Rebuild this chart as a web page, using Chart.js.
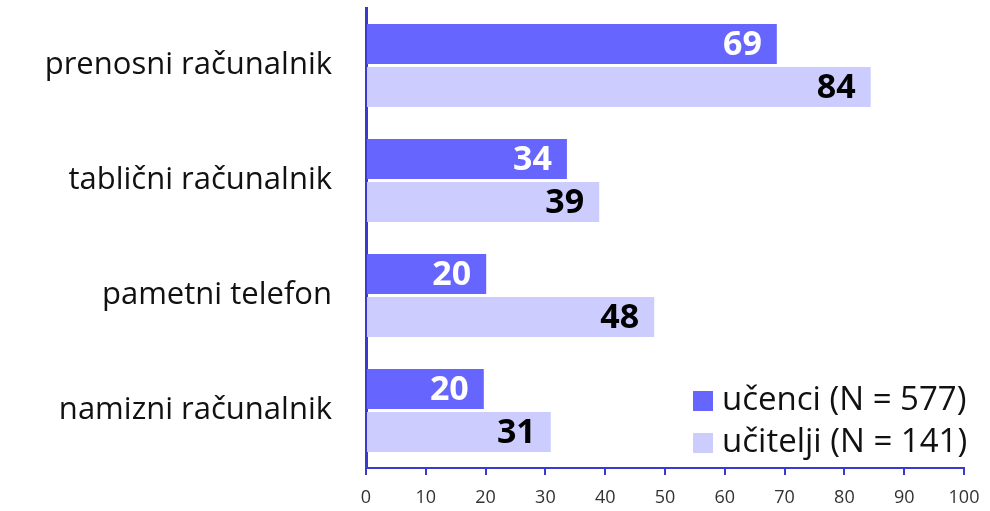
<!DOCTYPE html>
<html>
<head>
<meta charset="utf-8">
<script src="https://cdn.jsdelivr.net/npm/chart.js@4"></script>
<style>
  html, body { margin: 0; padding: 0; background: #fff; }
  #wrap { width: 990px; height: 511px; }
</style>
</head>
<body>
<div id="wrap"><canvas id="chart" width="990" height="511"></canvas></div>
<script>
const categories = ['prenosni računalnik', 'tablični računalnik', 'pametni telefon', 'namizni računalnik'];
const seriesNames = ['učenci (N = 577)', 'učitelji (N = 141)'];
// percentages; labels show them rounded
const ucenci = [68.7, 33.6, 20.1, 19.7];
const ucitelji = [84.4, 39.0, 48.2, 30.9];
const xTicks = [0, 10, 20, 30, 40, 50, 60, 70, 80, 90, 100];

const axisColor = '#3a3acc';
const darkBlue = '#6666ff';
const lightBlue = '#ccccff';
const fontFamily = '"Open Sans", "Noto Sans", sans-serif';

// values written inside the end of each bar
const barLabels = {
    id: 'barLabels',
    afterDatasetsDraw(chart) {
        const { ctx } = chart;
        ctx.save();
        ctx.font = 'bold 34px ' + fontFamily;
        ctx.textAlign = 'right';
        ctx.textBaseline = 'middle';
        chart.data.datasets.forEach((ds, i) => {
            const meta = chart.getDatasetMeta(i);
            ctx.fillStyle = i === 0 ? '#ffffff' : '#000000';
            meta.data.forEach((bar, j) => {
                ctx.fillText(Math.round(ds.data[j]), bar.x - 15, bar.y + 1);
            });
        });
        ctx.restore();
    },
};

// legend sitting in the lower right of the plot
const cornerLegend = {
    id: 'cornerLegend',
    afterDraw(chart) {
        const { ctx } = chart;
        ctx.save();
        ctx.font = '33px ' + fontFamily;
        ctx.textBaseline = 'middle';
        ctx.textAlign = 'left';
        chart.data.datasets.forEach((ds, i) => {
            const y = 401 + i * 42;
            ctx.fillStyle = ds.backgroundColor;
            ctx.fillRect(693, y - 10, 20, 20);
            ctx.fillStyle = '#111';
            ctx.fillText(ds.label, 722, y);
        });
        ctx.restore();
    },
};

new Chart(document.getElementById('chart'), {
    type: 'bar',
    data: {
        labels: categories,
        datasets: [
            { label: seriesNames[0], data: ucenci, backgroundColor: darkBlue },
            { label: seriesNames[1], data: ucitelji, backgroundColor: lightBlue },
        ],
    },
    options: {
        indexAxis: 'y',
        responsive: false,
        animation: false,
        layout: { padding: { top: 8, right: 26, left: 0, bottom: 0 } },
        datasets: {
            bar: { categoryPercentage: 0.75, barPercentage: 0.93 },
        },
        plugins: {
            legend: { display: false },
            tooltip: { enabled: false },
        },
        scales: {
            x: {
                min: 0,
                max: 100,
                afterBuildTicks(scale) {
                    scale.ticks = xTicks.map(v => ({ value: v }));
                },
                afterFit(scale) {
                    scale.height = 43;
                    scale.paddingLeft = 0;
                    scale.paddingRight = 0;
                },
                grid: {
                    drawOnChartArea: false,
                    drawTicks: true,
                    tickLength: 7,
                    color: axisColor,
                    lineWidth: 2,
                },
                border: { color: axisColor, width: 2 },
                ticks: {
                    color: '#333',
                    font: { family: fontFamily, size: 18 },
                    padding: 12,
                    maxRotation: 0,
                },
            },
            y: {
                afterFit(scale) {
                    scale.width = 366;
                    scale.paddingTop = 0;
                    scale.paddingBottom = 0;
                },
                grid: { display: false, drawTicks: false },
                border: { color: axisColor, width: 3 },
                ticks: {
                    color: '#111',
                    font: { family: fontFamily, size: 31 },
                    padding: 34,
                },
            },
        },
    },
    plugins: [barLabels, cornerLegend],
});
</script>
</body>
</html>
